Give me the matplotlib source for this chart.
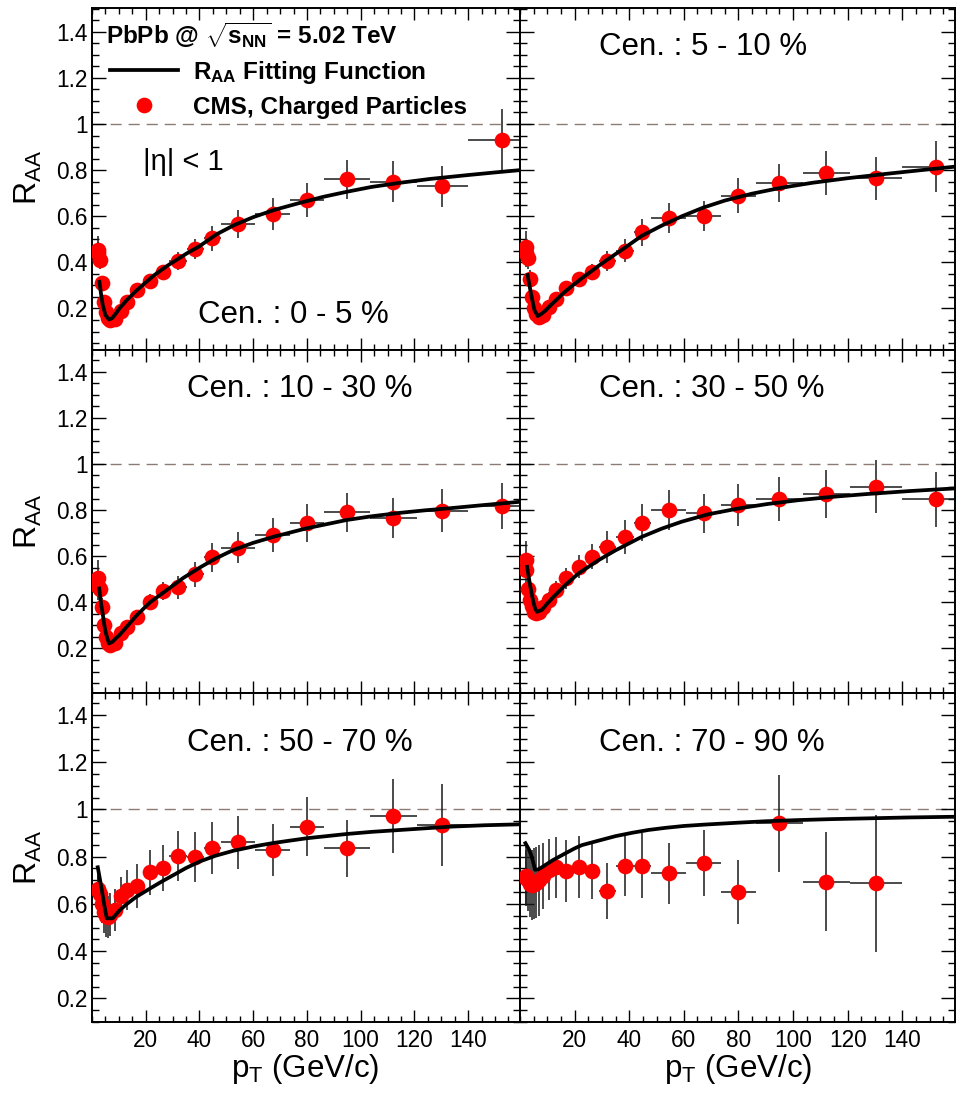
import numpy as np
import matplotlib
matplotlib.use('Agg')
import matplotlib.pyplot as plt
from matplotlib.ticker import MultipleLocator, FixedLocator, FuncFormatter, NullFormatter

plt.rcParams['font.family'] = ['Liberation Sans', 'DejaVu Sans']
plt.rcParams['mathtext.fontset'] = 'custom'
plt.rcParams['mathtext.rm'] = 'Liberation Sans'
plt.rcParams['mathtext.it'] = 'Liberation Sans:italic'
plt.rcParams['mathtext.bf'] = 'Liberation Sans:bold'

# ---------------- data ----------------
bin_edges = [2.0, 2.2, 2.4, 3.2, 4.0, 4.8, 5.6, 6.4, 7.2, 9.6, 12.0, 14.4, 19.2,
             24.0, 28.8, 35.2, 41.6, 48.0, 60.8, 73.6, 86.4, 103.6, 120.8, 140.0, 165.0]

raa_0_5 = [0.455, 0.44, 0.41, 0.31, 0.23, 0.185, 0.16, 0.15, 0.155, 0.19, 0.228, 0.28,
           0.32, 0.36, 0.407, 0.458, 0.505, 0.565, 0.61, 0.67, 0.76, 0.75, 0.73, 0.93]
err_0_5 = [0.06, 0.05, 0.04, 0.03, 0.02, 0.015, 0.012, 0.012, 0.012, 0.015, 0.018, 0.022,
           0.025, 0.03, 0.04, 0.042, 0.054, 0.06, 0.068, 0.075, 0.086, 0.09, 0.09, 0.135]

raa_5_10 = [0.465, 0.44, 0.42, 0.33, 0.25, 0.20, 0.175, 0.165, 0.17, 0.205, 0.24, 0.287,
            0.326, 0.359, 0.406, 0.45, 0.53, 0.593, 0.602, 0.689, 0.743, 0.789, 0.764, 0.815]
err_5_10 = [0.07, 0.06, 0.05, 0.035, 0.025, 0.018, 0.015, 0.015, 0.015, 0.018, 0.02, 0.025,
            0.03, 0.035, 0.045, 0.05, 0.058, 0.065, 0.066, 0.076, 0.083, 0.095, 0.095, 0.11]

raa_10_30 = [0.505, 0.47, 0.46, 0.38, 0.30, 0.25, 0.225, 0.215, 0.225, 0.265, 0.292, 0.338,
             0.40, 0.45, 0.465, 0.521, 0.595, 0.637, 0.692, 0.745, 0.79, 0.764, 0.797, 0.819]
err_10_30 = [0.08, 0.06, 0.05, 0.04, 0.03, 0.02, 0.018, 0.018, 0.018, 0.022, 0.025, 0.03,
             0.035, 0.04, 0.05, 0.056, 0.064, 0.068, 0.075, 0.082, 0.085, 0.087, 0.094, 0.10]

raa_30_50 = [0.585, 0.54, 0.46, 0.41, 0.385, 0.36, 0.355, 0.36, 0.38, 0.41, 0.453, 0.504,
             0.554, 0.598, 0.641, 0.684, 0.745, 0.80, 0.786, 0.822, 0.847, 0.87, 0.901, 0.847]
err_30_50 = [0.08, 0.07, 0.06, 0.05, 0.04, 0.035, 0.03, 0.03, 0.03, 0.035, 0.04, 0.045,
             0.05, 0.055, 0.07, 0.074, 0.081, 0.087, 0.085, 0.089, 0.095, 0.104, 0.115, 0.12]

raa_50_70 = [0.665, 0.66, 0.64, 0.60, 0.565, 0.55, 0.545, 0.555, 0.575, 0.635, 0.66, 0.676,
             0.734, 0.752, 0.804, 0.80, 0.835, 0.861, 0.828, 0.927, 0.835, 0.972, 0.934]
err_50_70 = [0.06, 0.06, 0.07, 0.08, 0.09, 0.09, 0.09, 0.09, 0.09, 0.08, 0.085, 0.092,
             0.095, 0.099, 0.106, 0.106, 0.11, 0.113, 0.11, 0.125, 0.12, 0.155, 0.175]

raa_70_90 = [0.72, 0.71, 0.70, 0.685, 0.68, 0.685, 0.69, 0.70, 0.72, 0.745, 0.755, 0.739,
             0.757, 0.739, 0.655, 0.762, 0.762, 0.73, 0.772, 0.649, 0.941, 0.694, 0.687]
err_70_90 = [0.12, 0.12, 0.13, 0.14, 0.15, 0.15, 0.15, 0.15, 0.14, 0.13, 0.13, 0.13,
             0.13, 0.12, 0.117, 0.13, 0.137, 0.13, 0.14, 0.135, 0.205, 0.21, 0.29]

# fitting-function curves
fit_pt_0_5 = [2.75, 3.4, 4.0, 5.0, 6.3, 7.5, 9.0, 10.2, 13.0, 16.3, 20.0, 23.0, 28.0, 35.3, 40.0,
              46.4, 53.0, 60.0, 68.0, 77.4, 86.0, 94.8, 104.0, 114.6, 126.0, 139.4, 150.0, 159.3]
fit_0_5 = [0.316, 0.26, 0.215, 0.172, 0.152, 0.158, 0.18, 0.2, 0.237, 0.275, 0.313, 0.343, 0.385, 0.439, 0.47,
           0.522, 0.562, 0.596, 0.628, 0.658, 0.684, 0.706, 0.727, 0.745, 0.762, 0.778, 0.79, 0.80]

fit_pt_5_10 = [2.8, 3.4, 4.0, 4.7, 5.3, 6.5, 8.0, 9.5, 11.3, 13.2, 16.0, 19.3, 22.5, 25.4, 28.8, 33.0,
               38.0, 44.6, 52.0, 59.3, 67.0, 75.0, 85.0, 95.0, 107.0, 120.0, 135.0, 147.0, 159.3]
fit_5_10 = [0.345, 0.305, 0.266, 0.225, 0.193, 0.167, 0.178, 0.193, 0.215, 0.236, 0.268, 0.30, 0.33, 0.355, 0.385, 0.42,
            0.46, 0.515, 0.56, 0.60, 0.637, 0.668, 0.698, 0.722, 0.745, 0.765, 0.785, 0.80, 0.815]

fit_pt_10_30 = [2.7, 3.3, 4.0, 4.6, 5.2, 6.3, 7.5, 8.8, 10.2, 13.0, 16.5, 21.6, 27.8, 34.0, 40.3, 46.0,
                52.6, 60.0, 67.5, 79.9, 94.8, 104.0, 114.6, 124.0, 133.2, 146.0, 159.3]
fit_10_30 = [0.46, 0.40, 0.35, 0.30, 0.265, 0.222, 0.228, 0.243, 0.258, 0.295, 0.342, 0.40, 0.453, 0.506, 0.552, 0.59,
             0.627, 0.658, 0.684, 0.721, 0.757, 0.773, 0.788, 0.799, 0.808, 0.822, 0.836]

fit_pt_30_50 = [2.6, 3.2, 3.8, 4.4, 5.0, 5.6, 6.2, 8.0, 10.0, 12.3, 16.6, 21.5, 28.8, 34.9, 44.6, 52.0,
                59.3, 69.0, 80.0, 91.0, 102.0, 114.0, 126.4, 142.0, 159.3]
fit_30_50 = [0.554, 0.51, 0.468, 0.43, 0.396, 0.372, 0.359, 0.367, 0.395, 0.424, 0.475, 0.526, 0.583, 0.625, 0.684, 0.72,
             0.75, 0.782, 0.807, 0.827, 0.843, 0.857, 0.869, 0.882, 0.894]

fit_pt_50_70 = [2.15, 3.5, 4.5, 5.5, 7.7, 10.2, 13.0, 16.5, 22.0, 26.0, 30.3, 35.0, 40.2, 46.0, 52.6,
                60.0, 67.5, 79.9, 94.8, 104.0, 114.6, 133.2, 146.0, 159.3]
fit_50_70 = [0.755, 0.67, 0.60, 0.539, 0.539, 0.572, 0.60, 0.63, 0.668, 0.695, 0.722, 0.752, 0.78, 0.804, 0.825,
             0.843, 0.858, 0.878, 0.896, 0.905, 0.913, 0.927, 0.933, 0.937]

fit_pt_70_90 = [2.0, 3.4, 4.3, 5.5, 6.5, 8.0, 9.3, 12.0, 16.6, 20.0, 22.7, 28.8, 35.0, 41.0, 47.0, 53.2,
                60.0, 67.8, 80.0, 90.0, 102.0, 114.0, 126.4, 142.0, 159.3]
fit_70_90 = [0.857, 0.828, 0.80, 0.745, 0.745, 0.755, 0.765, 0.785, 0.814, 0.835, 0.849, 0.868, 0.887, 0.901, 0.913, 0.922,
             0.93, 0.936, 0.944, 0.95, 0.955, 0.959, 0.962, 0.966, 0.969]

centralities = ['Cen. : 0 - 5 %', 'Cen. : 5 - 10 %', 'Cen. : 10 - 30 %',
                'Cen. : 30 - 50 %', 'Cen. : 50 - 70 %', 'Cen. : 70 - 90 %']
x_ticks = [20, 40, 60, 80, 100, 120, 140]
y_ticks = [0.2, 0.4, 0.6, 0.8, 1.0, 1.2, 1.4]

# ---------------- layout ----------------
W, H = 956, 1093
fig = plt.figure(figsize=(W / 100, H / 100), dpi=100)

cols = [(92, 520), (520, 955)]
rows = [(8, 350, (0.02, 1.503)), (350, 693, (0.007, 1.494)), (693, 1022, (0.1, 1.493))]

panels = [
    (raa_0_5, err_0_5, fit_pt_0_5, fit_0_5),
    (raa_5_10, err_5_10, fit_pt_5_10, fit_5_10),
    (raa_10_30, err_10_30, fit_pt_10_30, fit_10_30),
    (raa_30_50, err_30_50, fit_pt_30_50, fit_30_50),
    (raa_50_70, err_50_70, fit_pt_50_70, fit_50_70),
    (raa_70_90, err_70_90, fit_pt_70_90, fit_70_90),
]
cen_pos = [(39.5, 0.135), (28.8, 1.299), (35.3, 1.289), (28.8, 1.289), (35.3, 1.249), (28.8, 1.249)]

edges = np.array(bin_edges)
centers = 0.5 * (edges[:-1] + edges[1:])
halfw = 0.5 * (edges[1:] - edges[:-1])

fmt = FuncFormatter(lambda v, p: '%g' % round(v, 3))

axes = []
for i, (raa, err, fpt, fv) in enumerate(panels):
    r, c = divmod(i, 2)
    x0, x1 = cols[c]
    y0, y1, ylim = rows[r]
    ax = fig.add_axes([x0 / W, 1 - y1 / H, (x1 - x0) / W, (y1 - y0) / H])
    axes.append(ax)
    n = len(raa)
    ax.axhline(1.0, color='#8c7b75', lw=1.0, dashes=(8, 5), zorder=1)
    ax.errorbar(centers[:n], raa, yerr=err, xerr=halfw[:n], fmt='none',
                ecolor='#1a1a1a', elinewidth=1.1, capsize=0, zorder=2)
    mk, = ax.plot(centers[:n], raa, 'o', color='#ff0000', markersize=11.3,
                  markeredgewidth=0, zorder=3)
    fl, = ax.plot(fpt, fv, '-', color='black', lw=2.7, zorder=4,
                  solid_joinstyle='round')
    ax.set_xlim(0, 159.3)
    ax.set_ylim(*ylim)
    ax.xaxis.set_major_locator(FixedLocator(x_ticks))
    ax.xaxis.set_minor_locator(MultipleLocator(5))
    ax.yaxis.set_major_locator(FixedLocator(y_ticks))
    ax.yaxis.set_minor_locator(MultipleLocator(0.05))
    ax.tick_params(which='both', direction='in', top=True, right=True,
                   labelsize=16.3, width=1.0, colors='black')
    ax.tick_params(axis='y', which='major', length=10, pad=3)
    ax.tick_params(axis='y', which='minor', length=5)
    ax.tick_params(axis='x', which='major', length=8.5, pad=5)
    ax.tick_params(axis='x', which='minor', length=4.5)
    ax.xaxis.set_major_formatter(fmt)
    ax.yaxis.set_major_formatter(fmt)
    if c == 1:
        ax.yaxis.set_major_formatter(NullFormatter())
    if r < 2:
        ax.xaxis.set_major_formatter(NullFormatter())
    for s in ax.spines.values():
        s.set_linewidth(1.4)
    cx, cy = cen_pos[i]
    ax.text(cx, cy, centralities[i], fontsize=22.5, ha='left', va='baseline')
    if i == 0:
        ax.text(5.25, 1.345, r'PbPb @ $\sqrt{\mathbf{s}_{\mathbf{NN}}}$ = 5.02 TeV',
                fontsize=17.5, fontweight='bold', ha='left', va='baseline')
        ax.text(19.0, 0.80, '|η| < 1', fontsize=21, ha='left', va='baseline')
        ax.legend([fl, mk], [r'$\mathbf{R}_{\mathbf{AA}}$ Fitting Function',
                             'CMS, Charged Particles'],
                  loc='upper left', bbox_to_anchor=(0.042, 0.851), frameon=False,
                  borderpad=0, borderaxespad=0, handlelength=2.8,
                  handletextpad=0.62, labelspacing=0.4, numpoints=1,
                  prop={'size': 17.5, 'weight': 'bold'})

# axis labels
for yc in (177, 521, 857):
    fig.text(28 / W, 1 - yc / H, r'$\mathrm{R}_{\mathrm{AA}}$', rotation=90,
             fontsize=23, ha='center', va='center')
for xc in (305, 738):
    fig.text(xc / W, 1 - 1077 / H, r'$\mathrm{p}_{\mathrm{T}}$ (GeV/c)',
             fontsize=22.5, ha='center', va='baseline')

fig.savefig('out.png', dpi=100)
